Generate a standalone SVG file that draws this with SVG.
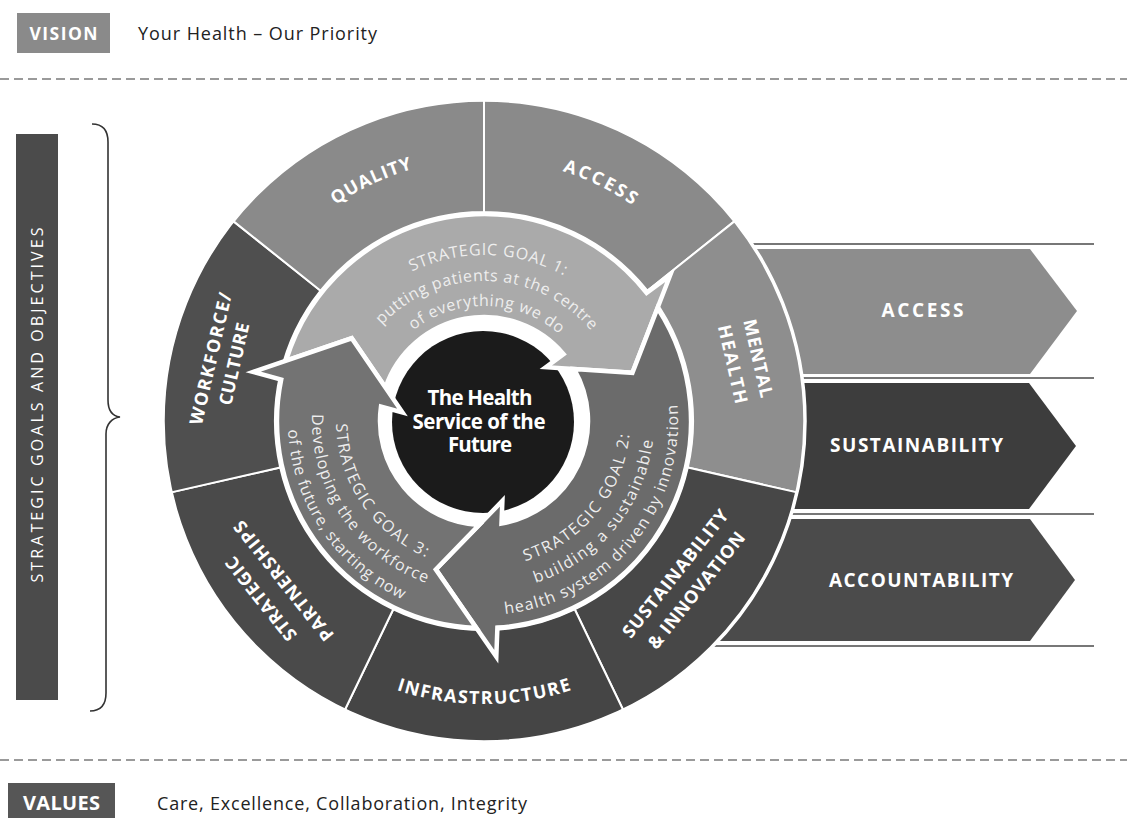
<svg xmlns="http://www.w3.org/2000/svg" width="1127" height="818" viewBox="0 0 1127 818">
<style>
.b{font-family:"Open Sans","Liberation Sans",sans-serif;font-weight:700;fill:#fff}
.r{font-family:"Open Sans","Liberation Sans",sans-serif;font-weight:400}
.seg{stroke:#fff;stroke-width:2;stroke-linejoin:round}
.goal{stroke:#fff;stroke-width:4.5;stroke-linejoin:miter;stroke-miterlimit:8}
.gt{font-family:"Open Sans","Liberation Sans",sans-serif;font-size:16px;fill:#eeeeee}
.lab{font-size:18px}
.band{font-size:19px}
.dash{stroke:#7a7a7a;stroke-width:1.4;stroke-dasharray:9 5;fill:none}
.hl{stroke:#4a4a4a;stroke-width:1.5}
</style>
<defs>
<path id="pQ" d="M 237.5,332.3 A 262 262 0 0 1 572.7,174.5"/>
<path id="pA" d="M 398.7,173.3 A 262 262 0 0 1 731.7,335.7"/>
<path id="pI" d="M 302.1,637.8 A 283 283 0 0 0 665.9,637.8"/>
<path id="pG1a" d="M 329.6,360.2 A 166 166 0 0 1 641.4,368.3"/>
<path id="pG1b" d="M 353.7,369.7 A 140 140 0 0 1 616.8,376.6"/>
<path id="pG1c" d="M 377.0,378.9 A 115 115 0 0 1 593.1,384.5"/>
<path id="pG2a" d="M 435.2,558.6 A 146 146 0 0 0 609.8,346.9"/>
<path id="pG2b" d="M 427.3,581.2 A 170 170 0 0 0 630.5,334.7"/>
<path id="pG2c" d="M 419.2,603.9 A 194 194 0 0 0 651.2,322.5"/>
<path id="pG3a" d="M 364.3,334.0 A 148 148 0 0 0 519.8,564.6"/>
<path id="pG3b" d="M 344.9,319.9 A 172 172 0 0 0 525.6,587.9"/>
<path id="pG3c" d="M 325.4,305.8 A 196 196 0 0 0 531.4,611.2"/>
</defs>
<rect width="1127" height="818" fill="#fff"/>

<g id="vision">
<rect x="17" y="13" width="93" height="40" fill="#8a8a8a"/>
<text class="b" x="63.5" y="39.5" font-size="17.5" text-anchor="middle" textLength="68">VISION</text>
<text class="r" x="138" y="39.5" font-size="18" fill="#222" textLength="239">Your Health – Our Priority</text>
</g>
<line class="dash" x1="0" y1="79" x2="1127" y2="79"/>
<line class="dash" x1="0" y1="760" x2="1127" y2="760"/>
<g id="values">
<rect x="8" y="783" width="107" height="35" fill="#565656"/>
<text class="b" x="61.5" y="810" font-size="20" text-anchor="middle" textLength="77">VALUES</text>
<text class="r" x="157" y="810" font-size="18" fill="#222" textLength="370">Care, Excellence, Collaboration, Integrity</text>
</g>

<g id="strategic-goals-bar">
<rect x="16" y="134" width="42" height="566" fill="#4b4b4b"/>
<text class="r" transform="translate(42.7 405) rotate(-90)" x="0" y="0" text-anchor="middle" font-size="16" fill="#fff" textLength="355">STRATEGIC GOALS AND OBJECTIVES</text>
</g>

<g id="connectors">
<path d="M 92,124 C 102,124 108,130 108,142 L 108,400 C 108,410 112,416 120,417 C 112,418 106,424 106,434 L 106,693 C 106,705 100,711 90,711" fill="none" stroke="#333" stroke-width="1.6"/>
</g>

<g id="bands">
<line class="hl" x1="700" y1="244" x2="1094" y2="244"/>
<line class="hl" x1="700" y1="378" x2="1094" y2="378"/>
<line class="hl" x1="700" y1="514" x2="1094" y2="514"/>
<line class="hl" x1="700" y1="646" x2="1094" y2="646"/>
<g id="band-access">
<polygon points="700,249 1030,249 1077,311 1030,374 700,374" fill="#8d8d8d"/>
<text class="b band" x="922.5" y="317" text-anchor="middle" textLength="82">ACCESS</text>
</g>
<g id="band-sustainability">
<polygon points="700,383 1029,383 1076,446 1029,509 700,509" fill="#3d3d3d"/>
<text class="b band" x="916.5" y="452" text-anchor="middle" textLength="173">SUSTAINABILITY</text>
</g>
<g id="band-accountability">
<polygon points="700,519 1030,519 1075,580 1030,641 700,641" fill="#4b4b4b"/>
<text class="b band" x="921" y="587" text-anchor="middle" textLength="184">ACCOUNTABILITY</text>
</g>
</g>

<g id="seg-access">
<path class="seg" fill="#8a8a8a" d="M 484,100 A 321 321 0 0 1 735.0,220.9 L 647.4,290.7 A 209 209 0 0 0 484,212 Z"/>
<text class="b lab"><textPath href="#pA" startOffset="50%" text-anchor="middle" textLength="78">ACCESS</textPath></text>
</g>
<g id="seg-mental-health">
<path class="seg" fill="#8e8e8e" d="M 735.0,220.9 A 321 321 0 0 1 796.9,492.4 L 687.8,467.5 A 209 209 0 0 0 647.4,290.7 Z"/>
<g transform="rotate(77.14 484 421)">
<text class="b lab" x="484" y="146" text-anchor="middle" textLength="80">MENTAL</text>
<text class="b lab" x="484" y="172" text-anchor="middle" textLength="80">HEALTH</text>
</g>
</g>
<g id="seg-sustainability-innovation">
<path class="seg" fill="#474747" d="M 796.9,492.4 A 321 321 0 0 1 623.3,710.2 L 574.7,609.3 A 209 209 0 0 0 687.8,467.5 Z"/>
<g transform="rotate(-51.43 484 421)">
<text class="b lab" x="484" y="672" text-anchor="middle" textLength="158">SUSTAINABILITY</text>
<text class="b lab" x="484" y="699" text-anchor="middle" textLength="144">&amp; INNOVATION</text>
</g>
</g>
<g id="seg-infrastructure">
<path class="seg" fill="#454545" d="M 623.3,710.2 A 321 321 0 0 1 344.7,710.2 L 393.3,609.3 A 209 209 0 0 0 574.7,609.3 Z"/>
<text class="b lab"><textPath href="#pI" startOffset="50%" text-anchor="middle" textLength="178">INFRASTRUCTURE</textPath></text>
</g>
<g id="seg-strategic-partnerships">
<path class="seg" fill="#4a4a4a" d="M 344.7,710.2 A 321 321 0 0 1 171.1,492.4 L 280.2,467.5 A 209 209 0 0 0 393.3,609.3 Z"/>
<g transform="rotate(231.43 484 421)">
<text class="b lab" x="484" y="142" text-anchor="middle" textLength="102">STRATEGIC</text>
<text class="b lab" x="484" y="171" text-anchor="middle" textLength="148">PARTNERSHIPS</text>
</g>
</g>
<g id="seg-workforce-culture">
<path class="seg" fill="#4f4f4f" d="M 171.1,492.4 A 321 321 0 0 1 233.0,220.9 L 320.6,290.7 A 209 209 0 0 0 280.2,467.5 Z"/>
<g transform="rotate(-77.14 484 421)">
<text class="b lab" x="484" y="147" text-anchor="middle" textLength="135">WORKFORCE/</text>
<text class="b lab" x="484" y="171" text-anchor="middle" textLength="84">CULTURE</text>
</g>
</g>
<g id="seg-quality">
<path class="seg" fill="#8a8a8a" d="M 233.0,220.9 A 321 321 0 0 1 484,100 L 484,212 A 209 209 0 0 0 320.6,290.7 Z"/>
<text class="b lab"><textPath href="#pQ" startOffset="50%" text-anchor="middle" textLength="85">QUALITY</textPath></text>
</g>
<circle cx="484" cy="421" r="321" fill="none" stroke="#fff" stroke-width="3.5"/>

<g id="center">
<circle cx="483" cy="422" r="91" fill="#1b1b1b"/>
<text class="b" font-size="20.5" text-anchor="middle" x="480" y="405" textLength="105">The Health</text>
<text class="b" font-size="20.5" text-anchor="middle" x="479" y="428.5" textLength="133">Service of the</text>
<text class="b" font-size="20.5" text-anchor="middle" x="480" y="452" textLength="64">Future</text>
</g>

<g id="goal-1">
<path class="goal" fill="#aaaaaa" d="M 286.0,360.7 A 207 207 0 0 1 646.6,292.9 L 670.0,275.7 L 632.4,372.8 L 545.9,367.2 L 563.6,354.1 A 104 104 0 0 0 385.5,387.6 L 351.7,338.3 Z"/>
<text class="gt" fill="#f2f2f2"><textPath href="#pG1a" startOffset="50%" text-anchor="middle" textLength="158">STRATEGIC GOAL 1:</textPath></text>
<text class="gt" fill="#f2f2f2"><textPath href="#pG1b" startOffset="50%" text-anchor="middle" textLength="236">putting patients at the centre</textPath></text>
<text class="gt" fill="#f2f2f2"><textPath href="#pG1c" startOffset="50%" text-anchor="middle" textLength="158">of everything we do</textPath></text>
</g>
<g id="goal-2">
<path class="goal" fill="#6b6b6b" d="M 657.5,308.1 A 207 207 0 0 1 497.4,627.6 L 496.3,656.7 L 435.8,569.4 L 502.4,500.9 L 501.5,523.5 A 104 104 0 0 0 574.1,369.0 L 632.4,372.8 Z"/>
<text class="gt"><textPath href="#pG2a" startOffset="50%" text-anchor="middle" textLength="174">STRATEGIC GOAL 2:</textPath></text>
<text class="gt"><textPath href="#pG2b" startOffset="50%" text-anchor="middle" textLength="195">building a sustainable</textPath></text>
<text class="gt"><textPath href="#pG2c" startOffset="50%" text-anchor="middle" textLength="300">health system driven by innovation</textPath></text>
</g>
<g id="goal-3">
<path class="goal" fill="#737373" d="M 476.3,627.9 A 207 207 0 0 1 281.2,379.5 L 253.2,371.9 L 351.7,338.3 L 402.5,412.4 L 381.0,406.6 A 104 104 0 0 0 479.1,524.9 L 435.8,569.4 Z"/>
<text class="gt"><textPath href="#pG3a" startOffset="50%" text-anchor="middle" textLength="170">STRATEGIC GOAL 3:</textPath></text>
<text class="gt"><textPath href="#pG3b" startOffset="50%" text-anchor="middle" textLength="218">Developing the workforce</textPath></text>
<text class="gt"><textPath href="#pG3c" startOffset="50%" text-anchor="middle" textLength="215">of the future, starting now</textPath></text>
</g>
</svg>
